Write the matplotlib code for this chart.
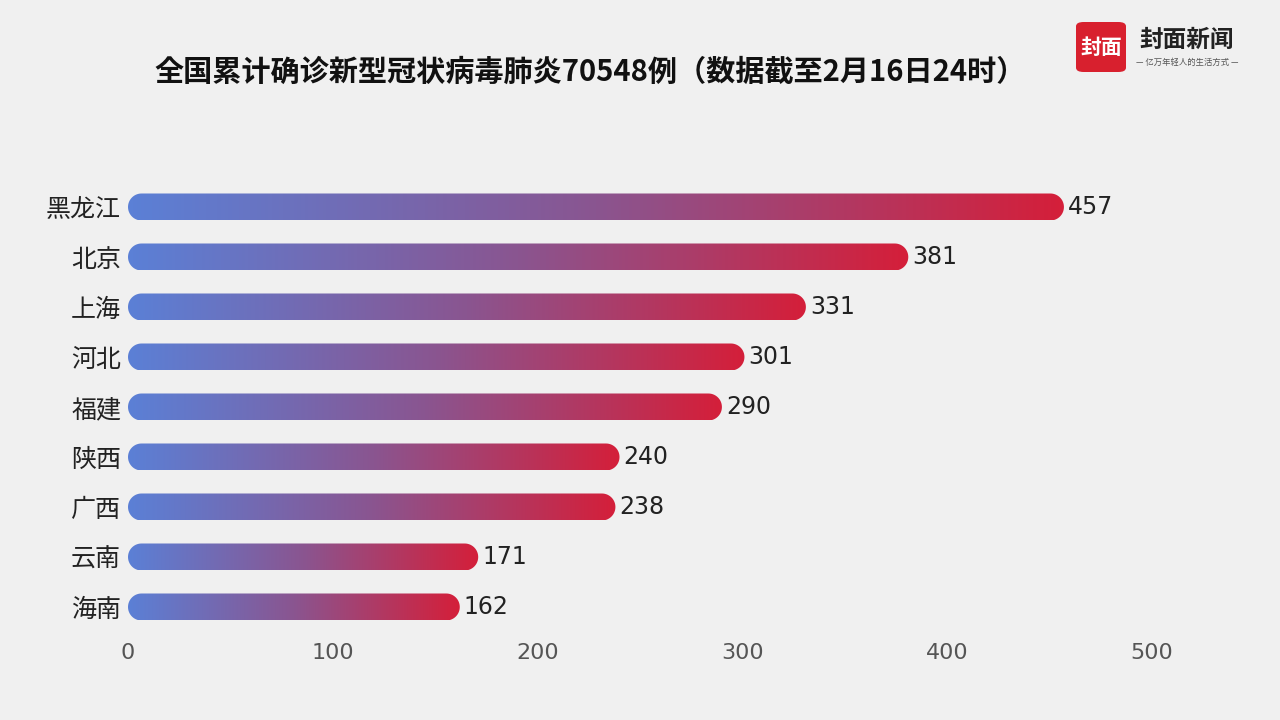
import matplotlib
matplotlib.use("Agg")
import matplotlib.pyplot as plt
import numpy as np
from matplotlib.patches import FancyBboxPatch, Polygon
from matplotlib.colors import LinearSegmentedColormap
from matplotlib import font_manager as fm

names = sorted({f.name for f in fm.fontManager.ttflist})
cjk = next((n for n in ["Noto Sans CJK SC", "Noto Sans CJK JP", "Noto Sans CJK TC",
                        "Noto Sans CJK KR", "Noto Sans SC"] if n in names),
           next((n for n in names if "CJK" in n), "DejaVu Sans"))
plt.rcParams["font.family"] = [cjk, "DejaVu Sans"]

categories = ["黑龙江", "北京", "上海", "河北", "福建", "陕西", "广西", "云南", "海南"]
values = [457, 381, 331, 301, 290, 240, 238, 171, 162]
xticks = [0, 100, 200, 300, 400, 500]
title = "全国累计确诊新型冠状病毒肺炎70548例（数据截至2月16日24时）"

bg = "#f0f0f0"
fig = plt.figure(figsize=(12.8, 7.2), dpi=100, facecolor=bg)
ax = fig.add_axes([0.1, 1 - 632 / 720, 0.8, 450 / 720], facecolor=bg)

cmap = LinearSegmentedColormap.from_list("g", ["#5b80d6", "#8a5590", "#d41f3a"])
grad = np.linspace(0, 1, 256).reshape(1, -1)
h = 0.54
ry = h / 2
rx = 13.5 / 2.048


def pill(i, v):
    t1 = np.linspace(np.pi / 2, -np.pi / 2, 30)
    t2 = np.linspace(-np.pi / 2, -3 * np.pi / 2, 30)
    right = np.c_[v - rx + rx * np.cos(t1), i + ry * np.sin(t1)]
    left = np.c_[rx + rx * np.cos(t2), i + ry * np.sin(t2)]
    return np.vstack([right, left])


for i, (c, v) in enumerate(zip(categories, values)):
    patch = Polygon(pill(i, v), closed=True, facecolor="none", edgecolor="none")
    ax.add_patch(patch)
    im = ax.imshow(grad, extent=(0, v, i + h / 2, i - h / 2), cmap=cmap,
                   aspect="auto", interpolation="bicubic")
    im.set_clip_path(patch)
    ax.text(v + 2, i, str(v), va="center", ha="left", fontsize=17,
            color="#222222", fontfamily="DejaVu Sans")

ax.set_ylim(len(categories) - 0.5, -0.5)
ax.set_xlim(0, 500)
ax.set_yticks(range(len(categories)))
ax.set_yticklabels(categories, fontsize=18, color="#222222", fontfamily=cjk)
ax.set_xticks(xticks)
ax.set_xticklabels([str(t) for t in xticks], fontsize=16, color="#555555",
                   fontfamily="DejaVu Sans")
ax.tick_params(length=0, axis="y", pad=5)
ax.tick_params(length=0, axis="x", pad=8)
for s in ax.spines.values():
    s.set_visible(False)

fig.text(590 / 1280, 1 - 72 / 720, title, ha="center", va="center",
         fontsize=21, fontweight="bold", color="#111111", fontfamily=cjk)

lg = FancyBboxPatch((1076 / 1280, 1 - 72 / 720), 50 / 1280, 50 / 720,
                    boxstyle="round,pad=0,rounding_size=0.006",
                    transform=fig.transFigure, facecolor="#d8202e", edgecolor="none")
fig.patches.append(lg)
fig.text(1101 / 1280, 1 - 47 / 720, "封面", ha="center", va="center",
         fontsize=15, fontweight="bold", color="white", fontfamily=cjk)
fig.text(1187 / 1280, 1 - 40 / 720, "封面新闻", ha="center", va="center",
         fontsize=17, fontweight="bold", color="#222222", fontfamily=cjk)
fig.text(1187 / 1280, 1 - 62 / 720, "— 亿万年轻人的生活方式 —", ha="center",
         va="center", fontsize=6, color="#555555", fontfamily=cjk)

fig.savefig("out.png", dpi=100, facecolor=bg)
